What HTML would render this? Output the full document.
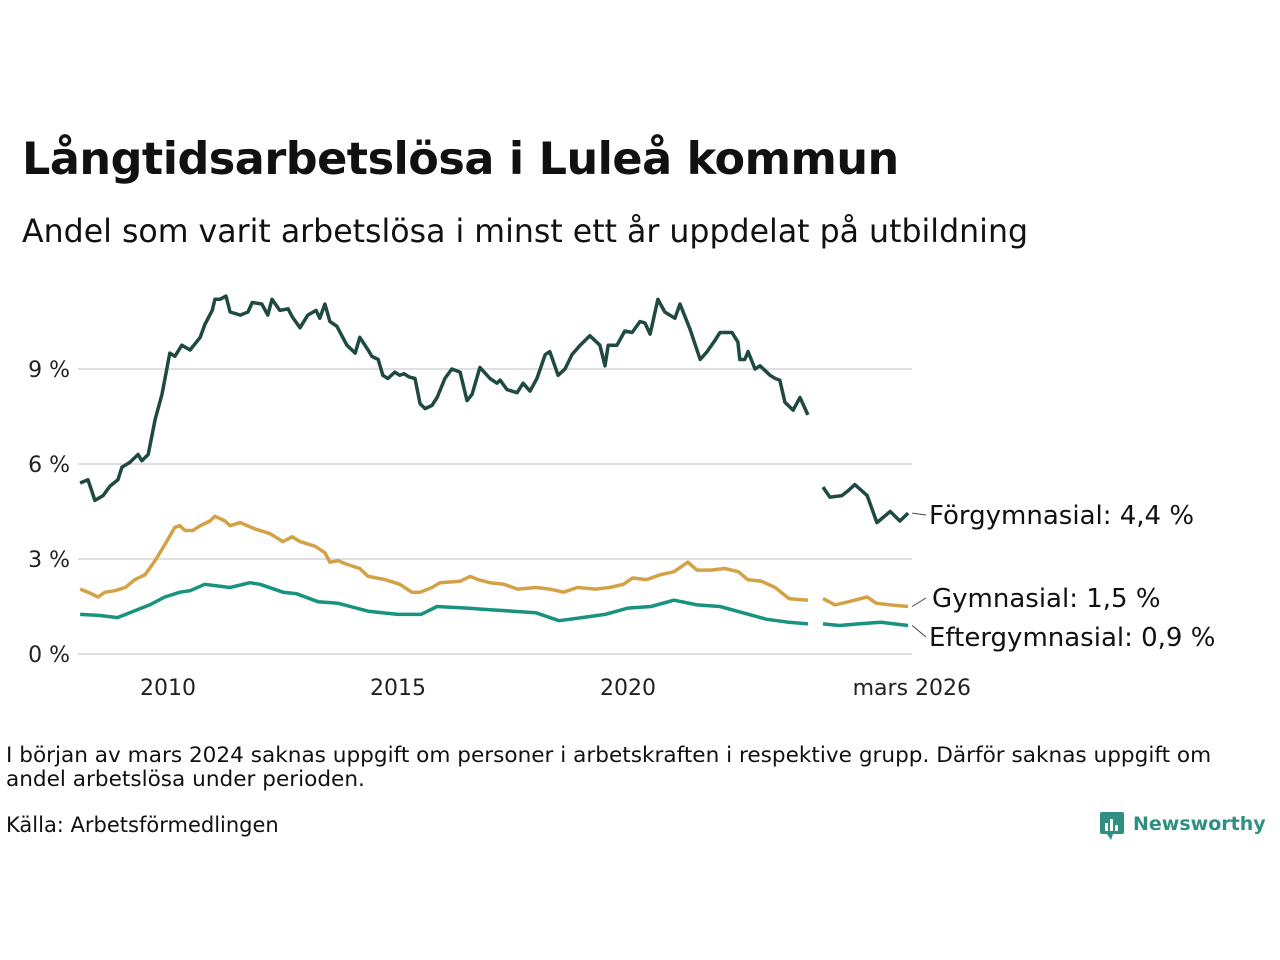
<!DOCTYPE html>
<html><head><meta charset="utf-8"><style>
body{margin:0;background:#fff;font-family:"Liberation Sans","DejaVu Sans",sans-serif;}
#wrap{position:relative;width:1280px;height:960px;overflow:hidden;}
.t{position:absolute;color:#111;white-space:nowrap;}
</style></head><body>
<div id="wrap">
<div class="t" style="left:22px;top:134px;font-size:44.5px;font-weight:bold;font-family:'DejaVu Sans',sans-serif;letter-spacing:-0.5px">Långtidsarbetslösa i Luleå kommun</div>
<div class="t" style="left:22px;top:214px;font-size:31.6px;font-family:'DejaVu Sans',sans-serif;">Andel som varit arbetslösa i minst ett år uppdelat på utbildning</div>
<svg id="chart" width="1280" height="720" style="position:absolute;left:0;top:0"></svg>
<div class="t" style="left:6px;top:744px;font-size:21.6px;line-height:24px;font-family:'DejaVu Sans',sans-serif;white-space:normal;width:1260px">I början av mars 2024 saknas uppgift om personer i arbetskraften i respektive grupp. Därför saknas uppgift om andel arbetslösa under perioden.</div>
<div class="t" style="left:6px;top:813px;font-size:21px;font-family:'DejaVu Sans',sans-serif;">Källa: Arbetsförmedlingen</div>
<div style="position:absolute;left:1099px;top:810px;">
<svg width="170" height="32"><rect x="1" y="2" width="24" height="22" rx="2" fill="#2f8f83"/><polygon points="8,24 14,24 12,30" fill="#2f8f83"/><rect x="6" y="13" width="3" height="8" fill="#fff"/><rect x="11" y="9" width="3" height="12" fill="#fff"/><rect x="16" y="15" width="3" height="6" fill="#fff"/><text x="34" y="20" font-size="19" font-weight="bold" fill="#2f8f83" font-family="'DejaVu Sans',sans-serif">Newsworthy</text></svg>
</div>
</div>
<script>
const yTicks=[0,3,6,9];
const yTickLabels=["0 %","3 %","6 %","9 %"];
const xTicks=[2010,2015,2020,2026.17];
const xTickLabels=["2010","2015","2020","mars 2026"];
const forgYears=[2008.09,2008.26,2008.41,2008.59,2008.74,2008.91,2009.0,2009.17,2009.35,2009.43,2009.57,2009.72,2009.87,2010.04,2010.15,2010.30,2010.48,2010.70,2010.80,2010.96,2011.02,2011.13,2011.26,2011.35,2011.57,2011.74,2011.83,2012.04,2012.17,2012.26,2012.43,2012.61,2012.70,2012.87,2013.04,2013.22,2013.30,2013.41,2013.52,2013.67,2013.89,2014.07,2014.17,2014.35,2014.43,2014.57,2014.67,2014.78,2014.93,2015.04,2015.13,2015.24,2015.37,2015.48,2015.59,2015.74,2015.85,2016.02,2016.17,2016.35,2016.50,2016.61,2016.78,2017.0,2017.15,2017.22,2017.37,2017.59,2017.72,2017.87,2018.02,2018.20,2018.30,2018.48,2018.63,2018.78,2018.96,2019.17,2019.39,2019.50,2019.57,2019.76,2019.93,2020.09,2020.26,2020.37,2020.48,2020.65,2020.80,2021.02,2021.13,2021.35,2021.57,2021.72,2021.89,2022.0,2022.26,2022.39,2022.43,2022.54,2022.61,2022.76,2022.87,2023.09,2023.20,2023.30,2023.41,2023.59,2023.74,2023.91,2024.0,2024.24,2024.39,2024.65,2024.78,2024.93,2025.20,2025.41,2025.70,2025.91,2026.09];
const forgValues=[5.4,5.5,4.85,5.0,5.3,5.5,5.9,6.05,6.3,6.1,6.3,7.4,8.2,9.5,9.4,9.75,9.6,10.0,10.4,10.85,11.2,11.2,11.3,10.8,10.7,10.8,11.1,11.05,10.7,11.2,10.85,10.9,10.65,10.3,10.7,10.85,10.6,11.05,10.5,10.35,9.75,9.5,10.0,9.6,9.4,9.3,8.8,8.7,8.9,8.8,8.85,8.75,8.7,7.9,7.75,7.85,8.1,8.7,9.0,8.9,8.0,8.2,9.05,8.7,8.55,8.65,8.35,8.25,8.55,8.3,8.7,9.45,9.55,8.8,9.0,9.45,9.75,10.05,9.75,9.1,9.75,9.75,10.2,10.15,10.5,10.45,10.1,11.2,10.8,10.6,11.05,10.25,9.3,9.55,9.9,10.15,10.15,9.85,9.3,9.3,9.55,9.0,9.1,8.8,8.7,8.65,7.95,7.7,8.1,7.55,null,5.27,4.95,5.0,5.15,5.35,5.0,4.15,4.5,4.2,4.45];
const gymYears=[2008.09,2008.26,2008.48,2008.63,2008.85,2009.07,2009.28,2009.50,2009.72,2009.93,2010.15,2010.26,2010.37,2010.54,2010.70,2010.91,2011.02,2011.24,2011.35,2011.57,2011.89,2012.22,2012.50,2012.70,2012.87,2013.20,2013.41,2013.52,2013.70,2013.85,2014.17,2014.35,2014.72,2015.04,2015.30,2015.48,2015.74,2015.91,2016.35,2016.57,2016.74,2017.0,2017.3,2017.6,2018.0,2018.3,2018.6,2018.9,2019.3,2019.6,2019.9,2020.1,2020.4,2020.7,2021.0,2021.3,2021.5,2021.8,2022.1,2022.4,2022.6,2022.9,2023.2,2023.5,2023.91,2024.0,2024.24,2024.5,2024.8,2025.2,2025.4,2025.7,2026.09];
const gymValues=[2.05,1.95,1.8,1.95,2.0,2.1,2.35,2.5,2.95,3.45,4.0,4.05,3.9,3.9,4.05,4.2,4.35,4.2,4.05,4.15,3.95,3.8,3.55,3.7,3.55,3.4,3.2,2.9,2.95,2.85,2.7,2.45,2.35,2.2,1.95,1.95,2.1,2.25,2.3,2.45,2.35,2.25,2.2,2.05,2.1,2.05,1.95,2.1,2.05,2.1,2.2,2.4,2.35,2.5,2.6,2.9,2.65,2.65,2.7,2.6,2.35,2.3,2.1,1.75,1.7,null,1.75,1.55,1.65,1.8,1.6,1.55,1.5];
const eftYears=[2008.09,2008.5,2008.9,2009.17,2009.6,2009.93,2010.26,2010.48,2010.8,2011.35,2011.78,2012.0,2012.5,2012.8,2013.26,2013.7,2014.35,2015.0,2015.5,2015.85,2016.5,2017.0,2017.5,2018.0,2018.5,2019.0,2019.5,2020.0,2020.5,2021.0,2021.5,2022.0,2022.5,2023.0,2023.5,2023.91,2024.0,2024.24,2024.6,2025.0,2025.5,2026.09];
const eftValues=[1.25,1.22,1.15,1.3,1.55,1.8,1.95,2.0,2.2,2.1,2.25,2.2,1.95,1.9,1.65,1.6,1.35,1.25,1.25,1.5,1.45,1.4,1.35,1.3,1.05,1.15,1.25,1.45,1.5,1.7,1.55,1.5,1.3,1.1,1.0,0.95,null,0.95,0.9,0.95,1.0,0.9];
const seriesNames=["forgymnasial","gymnasial","eftergymnasial"];
const seriesLabels=["Förgymnasial: 4,4 %","Gymnasial: 1,5 %","Eftergymnasial: 0,9 %"];

const NS="http://www.w3.org/2000/svg";
const svg=document.getElementById('chart');
function xS(v){return 168+(v-2010)*46;}
function yS(v){return 654-v*31.67;}
function mk(t,a){const e=document.createElementNS(NS,t);for(const k in a)e.setAttribute(k,a[k]);svg.appendChild(e);return e;}
yTicks.forEach((v,i)=>{
  const l=mk('line',{x1:78,x2:912,y1:yS(v),y2:yS(v),stroke:'#e0e0e3','stroke-width':2});
  
  
  const t=mk('text',{x:70,y:yS(v)+8,'text-anchor':'end','font-size':22,fill:'#222','font-family':"'DejaVu Sans',sans-serif"});
  t.textContent=yTickLabels[i];
  
  
});
xTicks.forEach((v,i)=>{
  const t=mk('text',{x:xS(v),y:695,'text-anchor':'middle','font-size':22,fill:'#222','font-family':"'DejaVu Sans',sans-serif"});
  t.textContent=xTickLabels[i];
  
  
});
function path(xs,ys){let d='',pen=false;xs.forEach((x,i)=>{const v=ys[i];if(v===null){pen=false;return;}d+=(pen?'L':'M')+xS(x).toFixed(1)+','+yS(v).toFixed(1);pen=true;});return d;}
const data=[[forgYears,forgValues,'#1f4a42'],[gymYears,gymValues,'#d4a246'],[eftYears,eftValues,'#17937f']];
data.forEach((s,i)=>{
  const p=mk('path',{d:path(s[0],s[1]),fill:'none',stroke:s[2],'stroke-width':3.5,'stroke-linejoin':'round'});
  
  
});
const labY=[515,598,637];
data.forEach((s,i)=>{
  const lx=s[0][s[0].length-1], lv=s[1][s[1].length-1];
  const c=mk('line',{x1:xS(lx)+4,y1:yS(lv),x2:926,y2:labY[i],stroke:'#444','stroke-width':1});
  
  
  const t=mk('text',{x:i==1?932:929,y:labY[i]+9,'font-size':26,fill:'#111','font-family':"'DejaVu Sans',sans-serif"});
  t.textContent=seriesLabels[i];
  
  
});
</script>
</body></html>
